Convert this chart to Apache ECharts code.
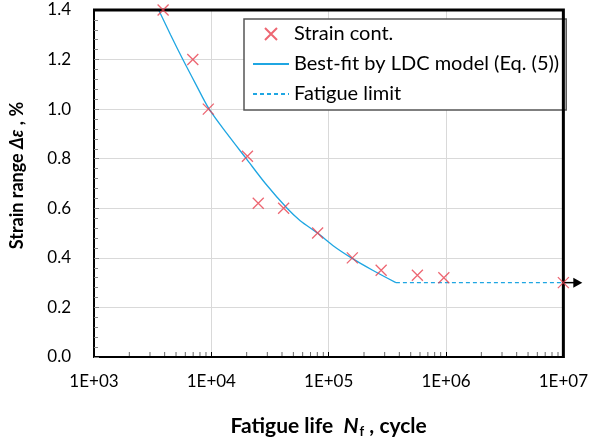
<!DOCTYPE html>
<html>
<head>
<meta charset="utf-8">
<script src="https://cdn.jsdelivr.net/npm/echarts@6/dist/echarts.min.js"></script>
<style>
html,body{margin:0;padding:0;background:#fff;}
#chart{width:591px;height:443px;}
</style>
</head>
<body>
<div id="chart"></div>
<script>
// ---- data ----
var strainN   = [3880, 6950, 9420, 20300, 25100, 41300, 80500, 159000, 280000, 570000, 958000, 10000000];
var strainVal = [1.40, 1.20, 1.00, 0.81, 0.62, 0.60, 0.50, 0.40, 0.35, 0.33, 0.32, 0.30];

var fitN      = [3560, 4490, 5720, 7380, 9590, 13650, 19860, 28900, 44200, 57200, 80400, 108400, 156000, 237000, 374000];
var fitVal    = [1.40, 1.30, 1.20, 1.10, 1.00, 0.90, 0.80, 0.70, 0.60, 0.55, 0.50, 0.45, 0.40, 0.35, 0.30];

var limitN    = [374000, 10000000];
var limitVal  = [0.30, 0.30];

var arrowN    = [10000000, 14500000];
var arrowVal  = [0.30, 0.30];

var xTickLabels = ['1E+03', '1E+04', '1E+05', '1E+06', '1E+07'];
var yTickLabels = ['0.0', '0.2', '0.4', '0.6', '0.8', '1.0', '1.2', '1.4'];

var decades = [1000, 10000, 100000, 1000000];
var minorMult = [2, 3, 4, 5, 6, 7, 8, 9];

function pairs(a, b) { return a.map(function (v, i) { return [v, b[i]]; }); }
var minorTicks = [];
decades.forEach(function (d) { minorMult.forEach(function (m) { minorTicks.push([d * m, 0]); }); });

var FONT = 'Lato';
var RED = '#e8404f';
var BLUE = '#1fa6e2';

var chart = echarts.init(document.getElementById('chart'), null, {renderer: 'canvas'});
chart.setOption({
  animation: false,
  backgroundColor: '#fff',
  textStyle: {fontFamily: FONT},
  grid: {left: 92, right: 26, top: 10, bottom: 85},
  legend: {
    orient: 'vertical',
    left: 244, top: 19,
    padding: [5, 7, 6, 8],
    itemGap: 10,
    itemWidth: 36, itemHeight: 12,
    borderColor: '#555', borderWidth: 1.5,
    backgroundColor: '#fff',
    textStyle: {fontFamily: FONT, fontSize: 20, color: '#000'},
    data: [
      {name: 'Strain cont.'},
      {name: 'Best-fit by LDC model (Eq. (5))', itemStyle: {opacity: 0}},
      {name: 'Fatigue limit', itemStyle: {opacity: 0}}
    ]
  },
  xAxis: {
    type: 'log', logBase: 10, min: 1000, max: 10000000,
    axisLine: {show: true, onZero: false, lineStyle: {color: '#000', width: 2}},
    axisTick: {show: true, inside: true, length: 5, lineStyle: {color: '#000', width: 1}},
    axisLabel: {
      margin: 16, fontFamily: FONT, fontSize: 17, color: '#000',
      formatter: function (v) { var e = Math.round(Math.log10(v)); return xTickLabels[e - 3]; }
    },
    splitLine: {show: true, lineStyle: {color: '#d9d9d9', width: 1}},
    name: '{b|Fatigue life  }{bi|N}{sub|f}{b| , cycle}',
    nameLocation: 'middle', nameGap: 57,
    nameTextStyle: {
      fontFamily: FONT, fontSize: 21, fontWeight: 'bold', color: '#000',
      rich: {
        b: {fontFamily: FONT, fontSize: 21, fontWeight: 'bold', color: '#000'},
        bi: {fontFamily: FONT, fontSize: 21, fontWeight: 'bold', fontStyle: 'italic', color: '#000'},
        sub: {fontFamily: FONT, fontSize: 13, color: '#000', padding: [11, 0, 0, 1]}
      }
    }
  },
  yAxis: {
    type: 'value', min: 0, max: 1.4, interval: 0.2,
    axisLine: {show: true, onZero: false, lineStyle: {color: '#000', width: 2}},
    axisTick: {show: true, inside: true, length: 5, lineStyle: {color: '#888'}},
    minorTick: {show: true, splitNumber: 5, length: 4, lineStyle: {color: '#888'}},
    axisLabel: {
      margin: 23, fontFamily: FONT, fontSize: 17, color: '#000',
      formatter: function (v) { return yTickLabels[Math.round(v / 0.2)]; }
    },
    splitLine: {show: true, lineStyle: {color: '#d9d9d9', width: 1}},
    name: '{b|Strain range }{bi|Δε}{b| , %}',
    nameLocation: 'middle', nameGap: 68,
    nameTextStyle: {
      fontFamily: FONT, fontSize: 18, fontWeight: 'bold', color: '#000',
      padding: [0, 0, 0, 16],
      rich: {
        b: {fontFamily: FONT, fontSize: 18, fontWeight: 'bold', color: '#000'},
        bi: {fontFamily: FONT, fontSize: 18, fontWeight: 'bold', fontStyle: 'italic', color: '#000'}
      }
    }
  },
  series: [
    {
      name: 'minor ticks', type: 'scatter', data: minorTicks, silent: true, clip: false,
      symbol: 'rect', symbolSize: [1, 4], symbolOffset: [0, -3],
      itemStyle: {color: '#444'}, z: 1
    },
    {
      name: 'Best-fit by LDC model (Eq. (5))', type: 'line', data: pairs(fitN, fitVal),
      showSymbol: false, symbol: 'none', smooth: 0.3,
      lineStyle: {color: BLUE, width: 1.3}, itemStyle: {color: BLUE}, z: 3
    },
    {
      name: 'Fatigue limit', type: 'line', data: pairs(limitN, limitVal),
      showSymbol: false, symbol: 'none',
      lineStyle: {color: BLUE, width: 1.3, type: [4, 3]}, itemStyle: {color: BLUE}, z: 3
    },
    {
      name: 'Strain cont.', type: 'scatter', data: pairs(strainN, strainVal), clip: false,
      symbol: 'path://M0,0L10,10M10,0L0,10', symbolSize: 11,
      itemStyle: {color: 'transparent', borderColor: RED, borderWidth: 1.3}, z: 5
    }
  ]
});

// frame and arrow, positioned through the axes' own scales
var c0 = chart.convertToPixel({xAxisIndex: 0, yAxisIndex: 0}, [1000, 0]);
var c1 = chart.convertToPixel({xAxisIndex: 0, yAxisIndex: 0}, [10000000, 1.4]);
var a0 = chart.convertToPixel({xAxisIndex: 0, yAxisIndex: 0}, [arrowN[0], arrowVal[0]]);
var a1 = chart.convertToPixel({xAxisIndex: 0, yAxisIndex: 0}, [arrowN[1], arrowVal[1]]);
chart.setOption({
  graphic: [
    {
      type: 'polyline', silent: true, z: 4,
      shape: {points: [[c0[0] - 1, c1[1]], [c1[0], c1[1]], [c1[0], c0[1] + 1]]},
      style: {stroke: '#000', lineWidth: 3, fill: 'none'}
    },
    {
      type: 'line', silent: true, z: 4,
      shape: {x1: a0[0], y1: a0[1], x2: a1[0] - 7, y2: a1[1]},
      style: {stroke: '#000', lineWidth: 1.5}
    },
    {
      type: 'polygon', silent: true, z: 4,
      shape: {points: [[a1[0] - 9, a1[1] - 5], [a1[0], a1[1]], [a1[0] - 9, a1[1] + 5]]},
      style: {fill: '#000'}
    }
  ]
});
</script>
</body>
</html>
